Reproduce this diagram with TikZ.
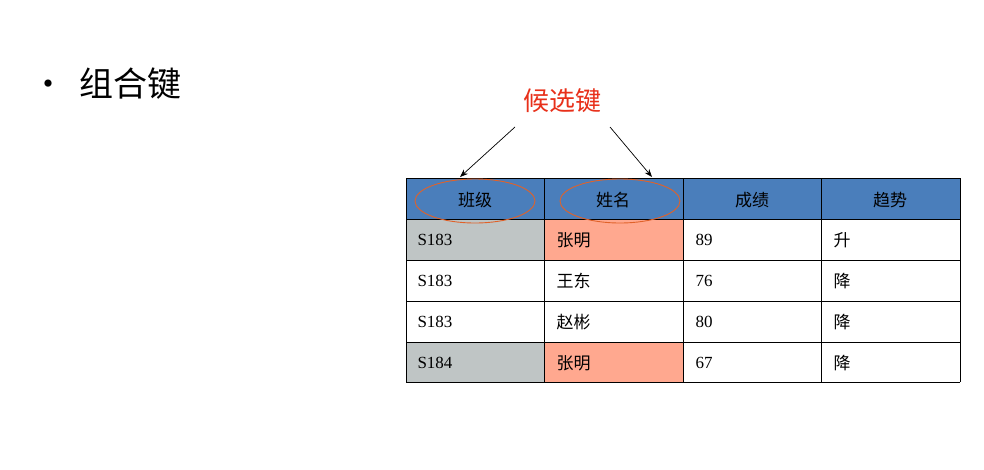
\documentclass[tikz,border=0pt]{standalone}
\usepackage{fontspec}
\setmainfont{Liberation Serif}
\newfontfamily\cjk{Noto Sans CJK SC}
\usetikzlibrary{shapes.geometric,arrows.meta}
\definecolor{hdr}{HTML}{4A7EBB}
\definecolor{grayc}{HTML}{BFC5C5}
\definecolor{salm}{HTML}{FFA88F}
\definecolor{ell}{HTML}{E0622A}
\definecolor{redt}{HTML}{E8301A}
\begin{document}
\begin{tikzpicture}[x=1pt,y=-1pt,
  cell/.style={draw=black,line width=0.8pt,minimum width=139pt,minimum height=41pt,anchor=north west,inner sep=0pt},
  txt/.style={anchor=west,font=\fontsize{17}{17}\selectfont},
  htxt/.style={font=\cjk\fontsize{17}{17}\selectfont}]
\useasboundingbox (0,0) rectangle (984,469);
\fill[white] (0,0) rectangle (984,469);
\node[anchor=west,font=\cjk\fontsize{34}{34}\selectfont] (title) at (28,84) {•\hspace{14pt}组合键};
% table fills
\foreach \c in {0,1,2,3}{ \fill[hdr] (406+138.5*\c,178) rectangle ++(138.5,41); }
\fill[grayc] (406,219) rectangle (544.5,260);
\fill[salm] (544.5,219) rectangle (683,260);
\fill[grayc] (406,342) rectangle (544.5,382);
\fill[salm] (544.5,342) rectangle (683,382);
% grid
\foreach \y in {178,219,260,301,342,382}{ \draw[line width=0.9pt] (406,\y) -- (960,\y); }
\foreach \x in {406,544.5,683,821.5,960}{ \draw[line width=0.9pt] (\x,178) -- (\x,382); }
% header
\node[htxt] (h1) at (475,200) {班级};
\node[htxt] (h2) at (613,200) {姓名};
\node[htxt] (h3) at (752,200) {成绩};
\node[htxt] (h4) at (890,200) {趋势};
% rows
\foreach \r/\a/\b/\cc/\d in {0/S183/张明/89/升,1/S183/王东/76/降,2/S183/赵彬/80/降,3/S184/张明/67/降}{
  \node[txt] at (414,240+41*\r) {\a};
  \node[txt,font=\cjk\fontsize{17}{17}\selectfont] at (553,240+41*\r) {\b};
  \node[txt] at (692,240+41*\r) {\cc};
  \node[txt,font=\cjk\fontsize{17}{17}\selectfont] at (830,240+41*\r) {\d};
}
% ellipses
\node[ellipse,draw=ell,line width=0.9pt,minimum width=120pt,minimum height=44pt] (e1) at (475,201) {};
\node[ellipse,draw=ell,line width=0.9pt,minimum width=120pt,minimum height=44pt] (e2) at (620,201) {};
% label
\node[font=\cjk\fontsize{26}{26}\selectfont,text=redt] (lbl) at (562,101) {候选键};
\coordinate (a1) at (460,177);
\coordinate (a2) at (652,177);
\draw[-{Stealth[length=8pt,width=6pt]},line width=0.7pt] (515,127) -- (a1);
\draw[-{Stealth[length=8pt,width=6pt]},line width=0.7pt] (610,127) -- (a2);
\end{tikzpicture}
\end{document}
